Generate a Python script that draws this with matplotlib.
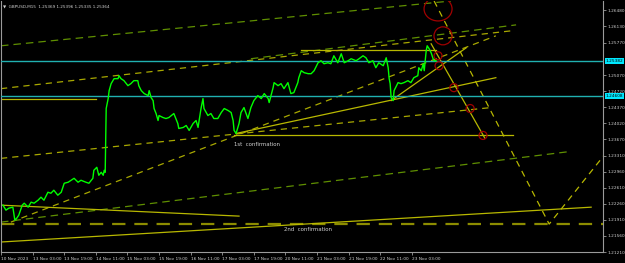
import matplotlib
matplotlib.use("Agg")
import matplotlib.pyplot as plt
from matplotlib.patches import Ellipse

# ---------------- data ----------------
bars = [4,10,16,24,28,32,36,43,47,55,61,67,75,81,87,95,101,107,115,122,128,136,142,148,156,162,172,178,186,188,194,198,203,207,209,211,
        213,217,219,223,229,237,239,243,249,257,263,269,277,279,284,290,298,300,304,308,310,314,318,320,328,334,340,350,358,360,369,375,381,389,395,399,
        405,409,411,419,425,431,439,446,452,460,466,470,472,476,482,486,492,500,506,512,520,527,533,541,543,551,553,561,567,573,581,587,593,601,603,
        608,614,622,628,634,642,648,654,662,668,674,682,689,695,703,709,719,725,733,739,745,753,759,765,774,780,784,786,788,790,794,796,804,810,816,
        824,830,836,844,846,851,855,857,861,863,867,871,875,877,881]
close = [1.22232,1.22123,1.22167,1.22188,1.21906,1.21949,1.22014,1.22232,1.22275,1.22188,1.22297,1.22275,1.22340,1.22406,1.22340,1.22514,1.22492,
         1.22558,1.22449,1.22514,1.22710,1.22732,1.22775,1.22818,1.22732,1.22775,1.22732,1.22710,1.22818,1.22992,1.23058,1.22884,1.22949,1.22884,
         1.22992,1.22949,
         1.24340,1.24557,1.24731,1.24883,1.24992,1.24992,1.25057,1.24992,1.24948,1.24839,1.24883,1.24948,1.24948,1.24839,1.24731,1.24666,1.24622,
         1.24731,1.24579,1.24513,1.24340,1.24231,1.24079,1.24187,1.24144,1.24122,1.24144,1.24231,1.24014,1.23905,1.23927,1.23970,1.23862,1.24014,
         1.24079,1.23927,
         1.24340,1.24557,1.24340,1.24187,1.24231,1.24122,1.24122,1.24253,1.24340,1.24296,1.24253,1.24079,1.23862,1.23796,1.24014,1.24253,1.24361,
         1.24122,1.24361,1.24513,1.24622,1.24557,1.24666,1.24557,1.24470,1.24796,1.24905,1.24839,1.24883,1.24774,1.24905,1.24666,1.24687,1.24905,
         1.25013,
         1.25165,1.25122,1.25100,1.25100,1.25165,1.25339,1.25383,1.25317,1.25339,1.25317,1.25491,1.25339,1.25535,1.25339,1.25383,1.25426,1.25383,
         1.25426,1.25491,1.25448,1.25339,1.25383,1.25230,1.25339,1.25274,1.25448,1.25230,1.24992,1.24883,1.24579,1.24513,1.24731,1.24905,1.24883,
         1.24905,1.24948,1.24905,1.25013,1.25057,1.25230,1.25165,1.25317,1.25165,1.25600,1.25709,1.25643,1.25556,1.25426,1.25383,1.25383]

time_ticks = [0, 64, 128, 192, 256, 320, 384, 448, 512, 576, 640, 704, 768, 832]
time_labels = ["10 Nov 2023", "13 Nov 03:00", "13 Nov 19:00", "14 Nov 11:00", "15 Nov 03:00", "15 Nov 19:00",
               "16 Nov 11:00", "17 Nov 03:00", "17 Nov 19:00", "20 Nov 11:00", "21 Nov 03:00", "21 Nov 19:00",
               "22 Nov 11:00", "23 Nov 03:00"]
price_ticks = [1.26480, 1.26130, 1.25770, 1.25070, 1.24720, 1.24370, 1.24020, 1.23670, 1.23310,
               1.22960, 1.22610, 1.22260, 1.21910, 1.21560, 1.21210]
hlines_cyan = [1.25382, 1.24608]

# trendlines: (t1, p1, t2, p2, kind)
trend_t1 = [0, 0, 506, 0, 20, 476, 472, 608, 0, 790, 871, 0, 0, 0, 0]
trend_p1 = [1.25709, 1.24774, 1.25426, 1.23253, 1.21862, 1.23796, 1.23753, 1.25622, 1.24557, 1.24513, 1.25752, 1.21862, 1.22232, 1.21819, 1.21428]
trend_t2 = [911, 1033, 1043, 992, 1002, 1002, 1037, 881, 192, 942, 980, 1154, 482, 1221, 1195]
trend_p2 = [1.26686, 1.26035, 1.26165, 1.24361, 1.25926, 1.25013, 1.23753, 1.25622, 1.24557, 1.25665, 1.23688, 1.23405, 1.21993, 1.21819, 1.22188]
trend_kind = ["green", "ydash", "green", "ydash", "ydash", "ysolid", "ysolid", "ysolid", "ysolid", "ysolid", "ysolid",
              "green", "ysolid", "olive", "ysolid"]

# projected V path
proj_t = [877, 1110, 1221]
proj_p = [1.26686, 1.21819, 1.23318]

# marker ellipses (time, price)
mark_t = [885, 895, 885, 887, 917, 950, 976]
mark_p = [1.26513, 1.25926, 1.25491, 1.25274, 1.24796, 1.24340, 1.23753]
mark_w = [28, 18, 8, 8, 8, 8, 8]
mark_h = [12, 9, 4, 4, 4, 4, 4]

confirm_text = ["1st  confirmation", "2nd  confirmation"]
confirm_t = [472, 574]
confirm_p = [1.23557, 1.21700]

# ---------------- figure ----------------
W, H = 625, 263
fig = plt.figure(figsize=(W / 100, H / 100), dpi=100, facecolor="black")
ax = fig.add_axes([1 / W, 1 - 252 / H, 602 / W, 251 / H])
ax.set_facecolor("black")
ax.set_xlim(0, 1219)
ax.set_ylim(1.21210, 1.26686)

styles = {
    "green": dict(color="#5f8f00", lw=0.9, ls=(0, (6, 4))),
    "ydash": dict(color="#a8a800", lw=0.9, ls=(0, (5, 4))),
    "ysolid": dict(color="#b8b800", lw=0.9, ls="-"),
    "olive": dict(color="#8c8c00", lw=1.6, ls=(0, (6, 4))),
}
for t1, p1, t2, p2, k in zip(trend_t1, trend_p1, trend_t2, trend_p2, trend_kind):
    ax.plot([t1, t2], [p1, p2], **styles[k], zorder=2)
ax.plot(proj_t, proj_p, color="#b8b800", lw=0.9, ls=(0, (5, 4)), zorder=2)

for p in hlines_cyan:
    ax.axhline(p, color="#20b0b0", lw=1.0, zorder=3)

ax.plot(bars, close, color="#00ff00", lw=1.0, zorder=4)

# ellipses in pixel size -> data size
xs = 1219 / 602
ys = (1.26686 - 1.21210) / 251
for t, p, w, h in zip(mark_t, mark_p, mark_w, mark_h):
    ax.add_patch(Ellipse((t, p), w * xs, h * 2 * ys, fill=False, ec="#a00000", lw=0.9, zorder=5, clip_on=True))

for s, t, p in zip(confirm_text, confirm_t, confirm_p):
    ax.text(t, p, s, color="#d0d0d0", fontsize=3.9, ha="left", va="center", family="DejaVu Sans")

ax.text(0.004, 0.985, "\u25bc  GBPUSD,M15  1.25369 1.25396 1.25335 1.25364", transform=ax.transAxes,
        color="#d0d0d0", fontsize=3.0, ha="left", va="top")

for sp in ax.spines.values():
    sp.set_color("#9a9a9a")
    sp.set_linewidth(0.8)
ax.spines["top"].set_visible(False)

ax.yaxis.tick_right()
ax.set_yticks(price_ticks)
ax.set_yticklabels([f"{v:.5f}" for v in price_ticks])
ax.tick_params(axis="y", colors="#9a9a9a", labelcolor="#d0d0d0", labelsize=3.1, length=2, width=0.6, pad=1.5)
ax.set_xticks(time_ticks)
ax.set_xticklabels(time_labels)
ax.tick_params(axis="x", colors="#9a9a9a", labelcolor="#d0d0d0", labelsize=3.1, length=2, width=0.6, pad=1.5)
for lab in ax.get_xticklabels():
    lab.set_ha("left")

for p in hlines_cyan:
    ax.text(1.004, p, f"{p:.5f}", transform=ax.get_yaxis_transform(), fontsize=3.1, color="black",
            ha="left", va="center", bbox=dict(boxstyle="square,pad=0.2", fc="#00e8ff", ec="none"), zorder=10, clip_on=False)

fig.savefig("out.png", dpi=100, facecolor="black")
